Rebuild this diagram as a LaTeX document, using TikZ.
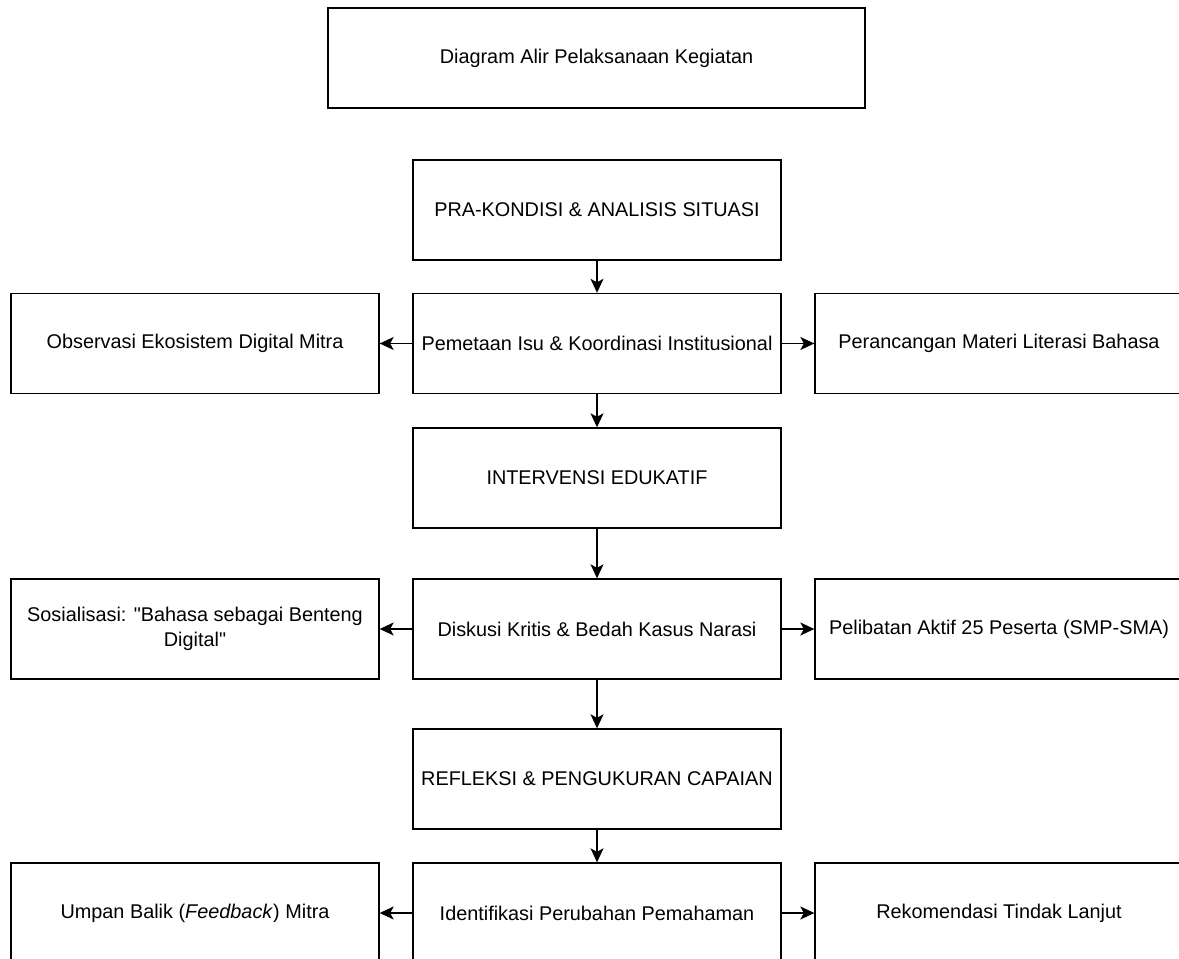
\documentclass[tikz,border=0pt]{standalone}
\usepackage{fontspec}
\setmainfont{Liberation Sans}[Ligatures=TeXOff]
\usetikzlibrary{arrows.meta}

\begin{document}
\begin{tikzpicture}[x=0.02cm, y=-0.02cm,
  box/.style={draw, line width=0.8pt, minimum width=7.36cm, minimum height=2cm,
    align=center, inner sep=0pt, font=\fontsize{11.3}{14}\selectfont},
  panah/.style={draw, line width=0.8pt, -{Stealth[length=2.8mm, width=2.6mm, inset=0.7mm]}}]
\clip (0,0) rectangle (1179,959);
% judul
\node[box, minimum width=10.74cm] (judul) at (596.5,58) {Diagram Alir Pelaksanaan Kegiatan};
% kolom tengah
\node[box] (pra) at (597,210) {PRA-KONDISI \& ANALISIS SITUASI};
\node[box] (pemetaan) at (597,343.5) {Pemetaan Isu \& Koordinasi Institusional};
\node[box] (intervensi) at (597,478) {INTERVENSI EDUKATIF};
\node[box] (diskusi) at (597,629) {Diskusi Kritis \& Bedah Kasus Narasi};
\node[box] (refleksi) at (597,779) {REFLEKSI \& PENGUKURAN CAPAIAN};
\node[box] (identifikasi) at (597,913) {Identifikasi Perubahan Pemahaman};
% kiri
\node[box] (observasi) at (195,343.5) {Observasi Ekosistem Digital Mitra};
\node[box] (sosialisasi) at (195,629) {Sosialisasi: "Bahasa sebagai Benteng\\Digital"};
\node[box] (umpan) at (195,913) {Umpan Balik (\textit{Feedback}) Mitra};
% kanan
\node[box] (perancangan) at (999,343.5) {Perancangan Materi Literasi Bahasa};
\node[box] (pelibatan) at (999,629) {Pelibatan Aktif 25 Peserta (SMP-SMA)};
\node[box] (rekomendasi) at (999,913) {Rekomendasi Tindak Lanjut};
% panah
\path[panah] (pra) -- (pemetaan);
\path[panah] (pemetaan) -- (intervensi);
\path[panah] (intervensi) -- (diskusi);
\path[panah] (diskusi) -- (refleksi);
\path[panah] (refleksi) -- (identifikasi);
\path[panah] (pemetaan) -- (observasi);
\path[panah] (pemetaan) -- (perancangan);
\path[panah] (diskusi) -- (sosialisasi);
\path[panah] (diskusi) -- (pelibatan);
\path[panah] (identifikasi) -- (umpan);
\path[panah] (identifikasi) -- (rekomendasi);
\end{tikzpicture}
\end{document}
